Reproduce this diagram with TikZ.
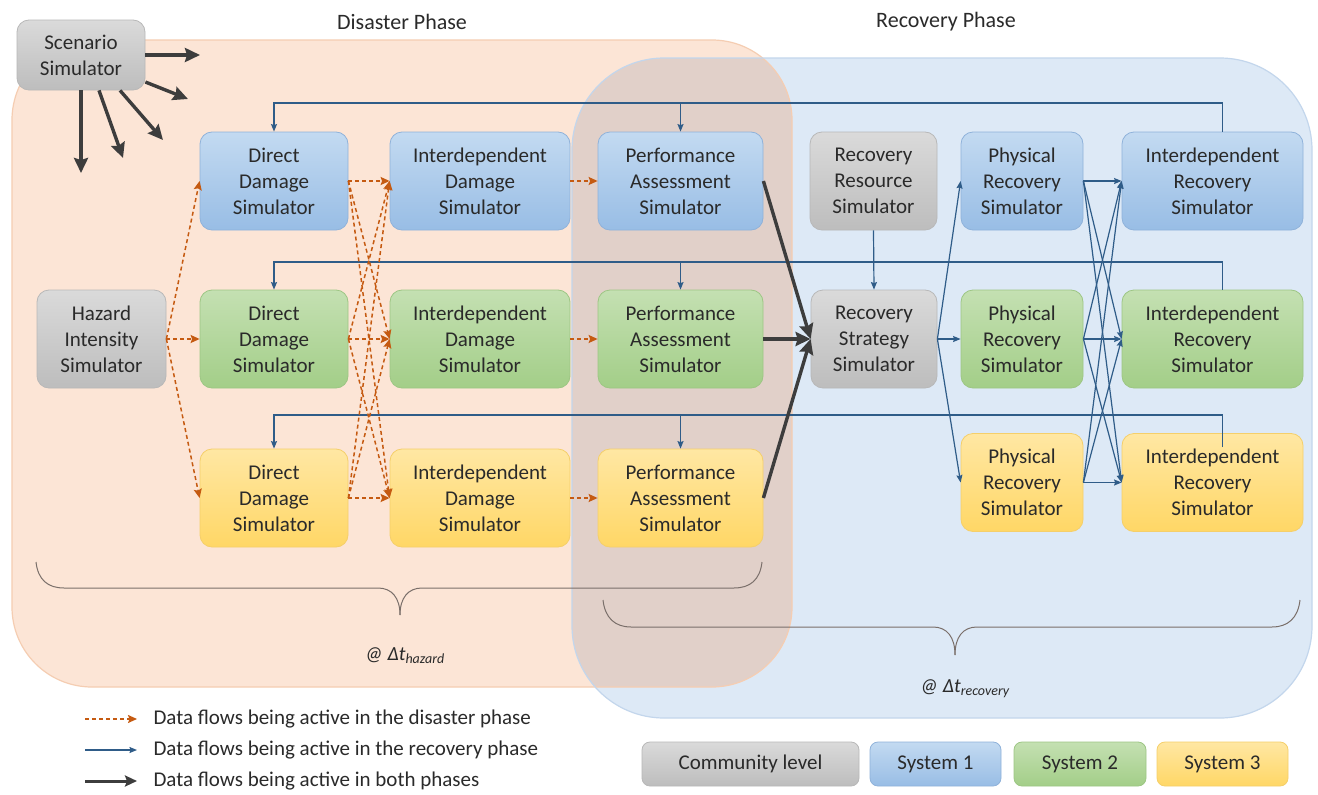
\documentclass[tikz,border=0pt]{standalone}
\usepackage{fontspec}
\setmainfont{Carlito}
\usetikzlibrary{arrows.meta,calc}
\definecolor{txt}{HTML}{2A2A2A}
\definecolor{orfill}{HTML}{FCE5D6}
\definecolor{orborder}{HTML}{F5CDB2}
\definecolor{blfill}{HTML}{DDE9F6}
\definecolor{blborder}{HTML}{C3D6EC}
\definecolor{ovfill}{HTML}{E1D0C9}
\definecolor{bT}{HTML}{C3DAF1}
\definecolor{bB}{HTML}{98BDE5}
\definecolor{bD}{HTML}{8FB2DA}
\definecolor{gT}{HTML}{C4E0B2}
\definecolor{gB}{HTML}{A3CE88}
\definecolor{gD}{HTML}{9DC684}
\definecolor{yT}{HTML}{FFE7A3}
\definecolor{yB}{HTML}{FFD766}
\definecolor{yD}{HTML}{F5CF6A}
\definecolor{cT}{HTML}{DADADA}
\definecolor{cB}{HTML}{BDBDBD}
\definecolor{cD}{HTML}{B8B8B8}
\definecolor{dashc}{HTML}{C55A11}
\definecolor{flowc}{HTML}{2F5C88}
\definecolor{thkc}{HTML}{3D3D3D}
\definecolor{bracec}{HTML}{7A6F6A}
\tikzset{
  box/.style={rounded corners=12pt, align=center, text=txt, font=\fontsize{21}{26}\selectfont,
    inner sep=0pt, line width=0.8pt, minimum height=98pt},
  cbox/.style={box, draw=cD, top color=cT, bottom color=cB},
  bbox/.style={box, draw=bD, top color=bT, bottom color=bB},
  gbox/.style={box, draw=gD, top color=gT, bottom color=gB},
  ybox/.style={box, draw=yD, top color=yT, bottom color=yB},
  dflow/.style={draw=dashc, line width=1.5pt, dash pattern=on 4pt off 3pt, -{Stealth[length=9pt,width=8pt,inset=1.5pt,fill=dashc]}},
  flow/.style={draw=flowc, line width=1.2pt, -{Stealth[length=7.5pt,width=6pt,inset=1pt]}},
  thk/.style={draw=thkc, line width=3.4pt, -{Stealth[length=15pt,width=14pt,inset=2pt]}},
  brace/.style={draw=bracec, line width=1pt},
  title/.style={text=txt, font=\fontsize{22}{26}\selectfont},
  legtext/.style={text=txt, font=\fontsize{21}{26}\selectfont, anchor=west},
  lab/.style={text=txt, font=\fontsize{20}{24}\selectfont\itshape},
}
\begin{document}
\begin{tikzpicture}[x=1pt,y=-1pt]
\useasboundingbox (0,0) rectangle (1318,795);
\fill[white] (0,0) rectangle (1318,795);

% phase regions
\fill[orfill, rounded corners=80pt] (12,40) rectangle (792,687);
\fill[blfill, rounded corners=92pt] (572,58) rectangle (1312,718);
\begin{scope}
  \clip[rounded corners=92pt] (572,58) rectangle (1312,718);
  \fill[ovfill, rounded corners=80pt] (12,40) rectangle (792,687);
\end{scope}
\draw[orborder, line width=1.2pt, rounded corners=80pt] (12,40) rectangle (792,687);
\draw[blborder, line width=1.2pt, rounded corners=92pt] (572,58) rectangle (1312,718);

% titles
\node[title] (T1) at (402,22) {Disaster Phase};
\node[title] (T2) at (946,22) {Recovery Phase};

% boxes
\node[cbox, minimum width=128pt, minimum height=70pt] (SC) at (81,55) {Scenario\\Simulator};
\node[cbox, minimum width=129pt] (HZ) at (101.5,339) {Hazard\\Intensity\\Simulator};

\node[bbox, minimum width=148pt] (DD1) at (274,181) {Direct\\Damage\\Simulator};
\node[gbox, minimum width=148pt] (DD2) at (274,339) {Direct\\Damage\\Simulator};
\node[ybox, minimum width=148pt] (DD3) at (274,498) {Direct\\Damage\\Simulator};

\node[bbox, minimum width=180pt] (ID1) at (480,181) {Interdependent\\Damage\\Simulator};
\node[gbox, minimum width=180pt] (ID2) at (480,339) {Interdependent\\Damage\\Simulator};
\node[ybox, minimum width=180pt] (ID3) at (480,498) {Interdependent\\Damage\\Simulator};

\node[bbox, minimum width=165pt] (PA1) at (680.5,181) {Performance\\Assessment\\Simulator};
\node[gbox, minimum width=165pt] (PA2) at (680.5,339) {Performance\\Assessment\\Simulator};
\node[ybox, minimum width=165pt] (PA3) at (680.5,498) {Performance\\Assessment\\Simulator};

\node[cbox, minimum width=127pt] (RR) at (873.5,181) {Recovery\\Resource\\Simulator};
\node[cbox, minimum width=126pt] (RS) at (874,339) {Recovery\\Strategy\\Simulator};

\node[bbox, minimum width=122pt] (PR1) at (1022,181) {Physical\\Recovery\\Simulator};
\node[gbox, minimum width=122pt] (PR2) at (1022,339) {Physical\\Recovery\\Simulator};
\node[ybox, minimum width=122pt] (PR3) at (1022,482.5) {Physical\\Recovery\\Simulator};

\node[bbox, minimum width=181pt] (IR1) at (1212.5,181) {Interdependent\\Recovery\\Simulator};
\node[gbox, minimum width=181pt] (IR2) at (1212.5,339) {Interdependent\\Recovery\\Simulator};
\node[ybox, minimum width=181pt] (IR3) at (1212.5,482.5) {Interdependent\\Recovery\\Simulator};

% scenario arrows
\coordinate (s1) at (200,55);
\coordinate (s2) at (188,99);
\coordinate (s3) at (163,140);
\coordinate (s4) at (123,158);
\coordinate (s5) at (81,173);
\draw[thk] (SC.east) -- (s1);
\draw[thk] ([yshift=-27pt]SC.east) -- (s2);
\draw[thk] ([xshift=39pt]SC.south) -- (s3);
\draw[thk] ([xshift=18pt]SC.south) -- (s4);
\draw[thk] (SC.south) -- (s5);

% feedback lines
\coordinate (L1) at (0,103);
\coordinate (L2) at (0,262);
\coordinate (L3) at (0,415);
\draw[flow] ([xshift=10pt]IR1.north) |- (DD1.north |- L1) -- (DD1.north);
\draw[flow] (PA1.north |- L1) -- (PA1.north);
\draw[flow] ([xshift=10pt]IR2.north) |- (DD2.north |- L2) -- (DD2.north);
\draw[flow] (PA2.north |- L2) -- (PA2.north);
\draw[flow] ([xshift=10pt,yshift=-14pt]IR3.north) |- (DD3.north |- L3) -- (DD3.north);
\draw[flow] (PA3.north |- L3) -- (PA3.north);

% disaster phase flows
\foreach \i in {1,2,3} {
  \draw[dflow] (HZ.east) -- (DD\i.west);
  \draw[dflow] (ID\i.east) -- (PA\i.west);
  \foreach \j in {1,2,3} {
    \draw[dflow] (DD\i.east) -- (ID\j.west);
  }
}

% both phases
\foreach \i in {1,2,3} {
  \draw[thk] (PA\i.east) -- (RS.west);
}

% recovery flows
\draw[flow] (RR.south) -- (RS.north);
\foreach \i in {1,2,3} {
  \draw[flow] (RS.east) -- (PR\i.west);
  \foreach \j in {1,2,3} {
    \draw[flow] (PR\i.east) -- (IR\j.west);
  }
}

% braces
\draw[brace] (36,562) .. controls (38,580) and (48,588) .. (64,588) -- (378,588)
  .. controls (392,588) and (400,598) .. (400,615);
\draw[brace] (400,615) .. controls (400,598) and (408,588) .. (422,588) -- (734,588)
  .. controls (750,588) and (760,580) .. (762,562);
\node[lab] (H) at (405,656) {@ Δt\textsubscript{hazard}};

\draw[brace] (603,600) .. controls (605,618) and (615,627) .. (631,627) -- (933,627)
  .. controls (947,627) and (955,637) .. (955,655);
\draw[brace] (955,655) .. controls (955,637) and (963,627) .. (977,627) -- (1272,627)
  .. controls (1288,627) and (1298,618) .. (1300,600);
\node[lab] (R) at (965,689) {@ Δt\textsubscript{recovery}};

% legend
\coordinate (la1) at (85,719); \coordinate (lb1) at (137,719);
\coordinate (la2) at (85,750); \coordinate (lb2) at (137,750);
\coordinate (la3) at (85,781); \coordinate (lb3) at (137,781);
\draw[dflow] (la1) -- (lb1);
\draw[flow] (la2) -- (lb2);
\draw[thk, line width=3pt, -{Stealth[length=12pt,width=11pt,inset=2pt]}] (la3) -- (lb3);
\node[legtext] (lt1) at (150,719) {Data flows being active in the disaster phase};
\node[legtext] (lt2) at (150,750) {Data flows being active in the recovery phase};
\node[legtext] (lt3) at (150,781) {Data flows being active in both phases};

\node[cbox, minimum width=217pt, minimum height=44pt, rounded corners=8pt] (K0) at (750.5,764) {Community level};
\node[bbox, minimum width=131pt, minimum height=44pt, rounded corners=8pt] (K1) at (935.5,764) {System 1};
\node[gbox, minimum width=132pt, minimum height=44pt, rounded corners=8pt] (K2) at (1080,764) {System 2};
\node[ybox, minimum width=131pt, minimum height=44pt, rounded corners=8pt] (K3) at (1222.5,764) {System 3};
\end{tikzpicture}
\end{document}
